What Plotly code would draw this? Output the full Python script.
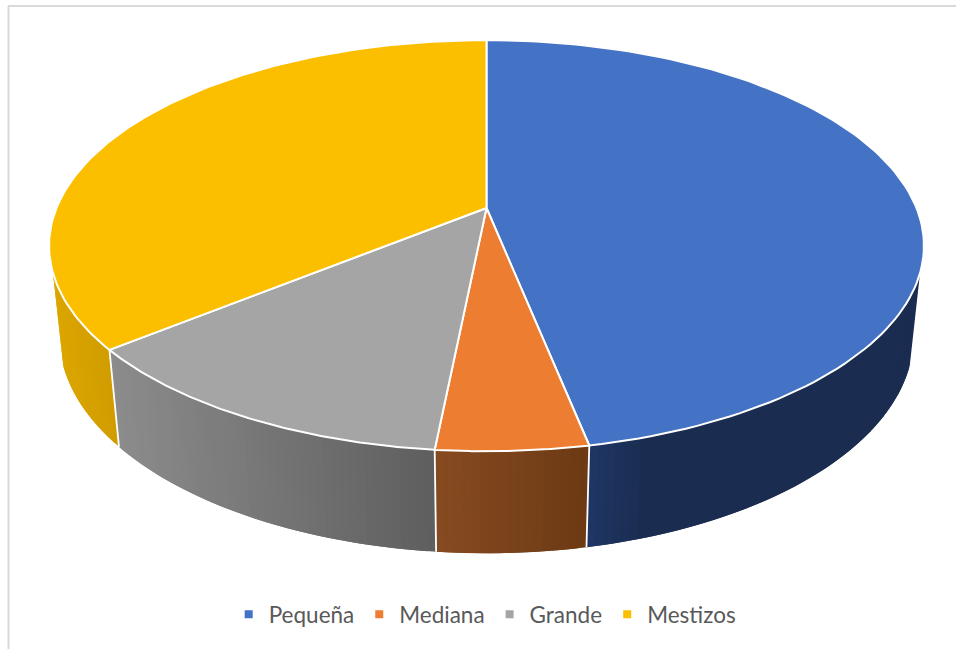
import numpy as np
import plotly.graph_objects as go

# Data
categories = ["Pequeña", "Mediana", "Grande", "Mestizos"]
values = [46.86, 4.71, 12.55, 35.88]

# Styles
top_colors = ["#4472C4", "#ED7D31", "#A5A5A5", "#FBBF00"]
side_left = [(31, 54, 100), (135, 74, 32), (140, 140, 140), (220, 166, 0)]
side_right = [(26, 44, 80), (108, 58, 20), (94, 94, 94), (208, 156, 0)]
side_span = [60, None, None, None]  # px over which the side gradient runs

# Projection of the pie disc onto the picture
CX, CY = 486.5, 208.0
A, Q, P = 430.0, -160.5, 0.1834
M, K = 0.023, 96.0
WALL_FROM, WALL_TO = 108.0, 252.0


def project(ang_deg, r=1.0, low=False):
    t = np.radians(ang_deg)
    u, v = r * np.sin(t), r * np.cos(t)
    w = 1 + P * v + (M if low else 0)
    return CX + A * u / w, (CY + Q * v + (K if low else 0)) / w


total = sum(values)
edges = np.concatenate([[0], np.cumsum(values)]) / total * 360
fig = go.Figure()


def mix(c0, c1, f):
    f = min(max(f, 0), 1)
    return "rgb(%d,%d,%d)" % tuple(round(a + (b - a) * f) for a, b in zip(c0, c1))


# Side walls: each band runs to the far end of the slice's wall and the next one paints
# over it, so no seams show between bands
for i in range(len(values)):
    a0, a1 = max(edges[i], WALL_FROM), min(edges[i + 1], WALL_TO)
    if a1 <= a0:
        continue
    angs = np.linspace(a0, a1, int((a1 - a0) / 1.0) + 2)
    xs_all = [project(a)[0] for a in angs]
    xmin, xmax = min(xs_all), max(xs_all)
    span = side_span[i] or (xmax - xmin)
    for k in range(len(angs) - 1):
        a, b = angs[k], angs[min(k + 2, len(angs) - 1)]
        arc = np.linspace(a, b, 4)
        up = [project(t) for t in arc]
        lo = [project(t, low=True) for t in arc[::-1]]
        xs = [p[0] for p in up] + [p[0] for p in lo] + [up[0][0]]
        ys = [p[1] for p in up] + [p[1] for p in lo] + [up[0][1]]
        f = (0.5 * (project(angs[k])[0] + project(angs[k + 1])[0]) - xmin) / span
        col = mix(side_left[i], side_right[i], f)
        fig.add_trace(go.Scatter(x=xs, y=ys, mode="lines", fill="toself", fillcolor=col,
                                 line=dict(width=0), hoverinfo="skip", showlegend=False))

# Vertical white edges on the front of the wall
for e in edges[1:-1]:
    x0, y0 = project(e)
    x1, y1 = project(e, low=True)
    fig.add_trace(go.Scatter(x=[x0, x1], y=[y0, y1], mode="lines",
                             line=dict(color="white", width=1.8), hoverinfo="skip", showlegend=False))

# Top face
for i in range(len(values)):
    angs = np.linspace(edges[i], edges[i + 1], 120)
    pts = [project(a) for a in angs]
    xs = [CX] + [p[0] for p in pts] + [CX]
    ys = [CY] + [p[1] for p in pts] + [CY]
    fig.add_trace(go.Scatter(x=xs, y=ys, mode="lines", fill="toself", fillcolor=top_colors[i],
                             line=dict(color="white", width=2), hoverinfo="skip", showlegend=False))

# Legend
for name, col in zip(categories, top_colors):
    fig.add_trace(go.Scatter(x=[None], y=[None], mode="markers", name=name,
                             marker=dict(symbol="square", size=8, color=col)))

fig.update_layout(
    width=956, height=649, margin=dict(l=0, r=0, t=0, b=0),
    paper_bgcolor="white", plot_bgcolor="white",
    xaxis=dict(range=[0, 956], visible=False, fixedrange=True),
    yaxis=dict(range=[649, 0], visible=False, fixedrange=True),
    legend=dict(orientation="h", x=0.507, xanchor="center", y=0.053, yanchor="middle",
                font=dict(family="Lato", size=22.5, color="#595959"), itemwidth=30,
                bgcolor="rgba(0,0,0,0)"),
    shapes=[
        dict(type="line", xref="paper", yref="paper", x0=8.5 / 956, x1=8.5 / 956, y0=0, y1=1 - 6 / 649,
             line=dict(color="#D9D9D9", width=2)),
        dict(type="line", xref="paper", yref="paper", x0=8 / 956, x1=1, y0=1 - 6 / 649, y1=1 - 6 / 649,
             line=dict(color="#D9D9D9", width=2)),
    ],
)
fig.write_html("out.html", config={"displayModeBar": False},
               post_script="document.body.style.margin='0';")
